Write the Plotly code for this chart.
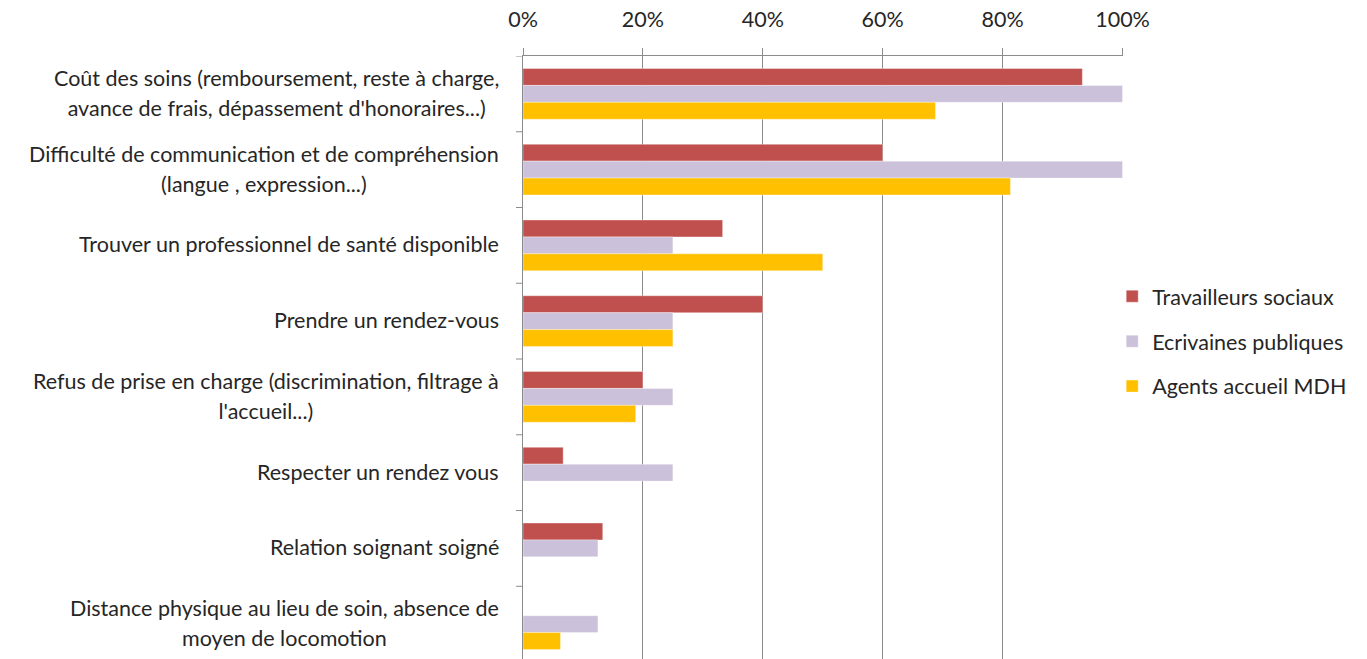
import plotly.graph_objects as go

categories = [
    "Coût des soins (remboursement, reste à charge,<br>avance de frais, dépassement d'honoraires...)",
    "Difficulté de communication et de compréhension<br>(langue , expression...)",
    "Trouver un professionnel de santé disponible",
    "Prendre un rendez-vous",
    "Refus de prise en charge (discrimination, filtrage à<br>l'accueil...)",
    "Respecter un rendez vous",
    "Relation soignant soigné",
    "Distance physique au lieu de soin, absence de<br>moyen de locomotion",
]
travailleurs_sociaux = [0.933, 0.600, 0.333, 0.400, 0.200, 0.067, 0.133, 0.0]
ecrivaines_publiques = [1.000, 1.000, 0.250, 0.250, 0.250, 0.250, 0.125, 0.125]
agents_accueil_mdh = [0.688, 0.813, 0.500, 0.250, 0.188, 0.0, 0.0, 0.0625]
x_ticks = [0, 0.2, 0.4, 0.6, 0.8, 1.0]

series = [
    ("Travailleurs sociaux", travailleurs_sociaux, "#C0504D"),
    ("Ecrivaines publiques", ecrivaines_publiques, "#CCC1DA"),
    ("Agents accueil MDH", agents_accueil_mdh, "#FFC000"),
]

FONT = "Lato"
FS = 21.5
TXT = "#262626"

fig = go.Figure()
for i, (name, vals, col) in enumerate(series):
    fig.add_trace(go.Bar(
        y=list(range(len(categories))), x=vals, name=name, orientation="h",
        marker=dict(color=col, line=dict(color="rgba(255,255,255,0.6)", width=0.6)),
        legendgroup=f"g{i}",
    ))

# category labels: two annotations per label so lines are centred and spaced like the reference
LINE_GAP = 30
for i, lab in enumerate(categories):
    parts = lab.split("<br>")
    if len(parts) == 1:
        fig.add_annotation(x=0, y=i, xref="x", yref="y", text=lab, showarrow=False,
                           xanchor="right", yanchor="middle", xshift=-22, yshift=1, align="center",
                           font=dict(family=FONT, size=FS, color=TXT))
    else:
        hid = "<span style='color:rgba(0,0,0,0)'>%s</span>"
        t1 = parts[0] + "<br>" + hid % parts[1]
        t2 = hid % parts[0] + "<br>" + parts[1]
        base = FS * 1.3
        d = (LINE_GAP - base) / 2
        fig.add_annotation(x=0, y=i, xref="x", yref="y", text=t1, showarrow=False,
                           xanchor="right", yanchor="middle", xshift=-22, yshift=d + 1, align="center",
                           font=dict(family=FONT, size=FS, color=TXT))
        fig.add_annotation(x=0, y=i, xref="x", yref="y", text=t2, showarrow=False,
                           xanchor="right", yanchor="middle", xshift=-22, yshift=-d + 1, align="center",
                           font=dict(family=FONT, size=FS, color=TXT))

fig.update_layout(
    width=1367, height=659,
    margin=dict(l=523, r=244, t=56, b=0, pad=0),
    paper_bgcolor="white", plot_bgcolor="white",
    barmode="group", bargap=0.33, bargroupgap=0,
    font=dict(family=FONT, size=FS, color=TXT),
    showlegend=True,
    legend=dict(x=0.982, xanchor="left", y=0.527, yanchor="middle", xref="paper",
                tracegroupgap=14, font=dict(family=FONT, size=FS, color=TXT),
                bgcolor="rgba(0,0,0,0)", itemwidth=30),
    xaxis=dict(side="top", range=[0, 1.0008], tickvals=x_ticks, tickformat=".0%",
               showgrid=True, gridcolor="#8C8C8C", gridwidth=1,
               showline=True, linecolor="#8C8C8C", linewidth=1,
               ticks="outside", ticklen=7, tickcolor="#8C8C8C",
               ticklabelstandoff=12,
               zeroline=False, fixedrange=True,
               tickfont=dict(family=FONT, size=FS, color=TXT)),
    yaxis=dict(range=[7.46, -0.5], tickvals=list(range(len(categories))),
               showticklabels=False, showgrid=False, zeroline=False,
               showline=True, linecolor="#8C8C8C", linewidth=1,
               ticks="", fixedrange=True),
)

# boundary tick marks on category axis
for k in range(len(categories) + 1):
    fig.add_shape(type="line", xref="x domain", yref="y", x0=-0.0117, x1=0,
                  y0=k - 0.5, y1=k - 0.5, line=dict(color="#8C8C8C", width=1))

fig.write_html("out.html", config={"displayModeBar": False},
               post_script="document.body.style.margin='0';document.body.style.overflow='hidden';")
